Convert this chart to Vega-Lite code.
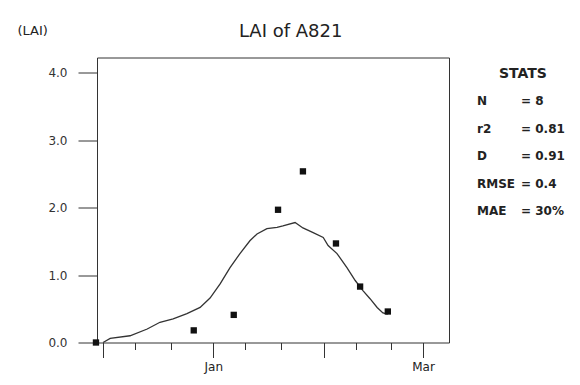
{
  "$schema": "https://vega.github.io/schema/vega-lite/v6.json",
  "padding": {"left": 16, "top": 22.5, "right": 0, "bottom": 0},
  "background": "white",
  "title": {"text": "LAI of A821", "font": "DejaVu Sans", "fontSize": 18, "fontWeight": "normal", "color": "#222", "anchor": "middle", "offset": -17},
  "config": {"view": {"stroke": "#333", "strokeWidth": 1}, "font": "DejaVu Sans"},
  "datasets": {
    "simulated": [
      {"date": "2000/12/01 00:00", "lai": 0.0},
      {"date": "2000/12/03 00:00", "lai": 0.06},
      {"date": "2000/12/08 14:00", "lai": 0.10},
      {"date": "2000/12/13 10:00", "lai": 0.20},
      {"date": "2000/12/17 00:00", "lai": 0.30},
      {"date": "2000/12/20 17:00", "lai": 0.35},
      {"date": "2000/12/24 14:00", "lai": 0.43},
      {"date": "2000/12/28 07:00", "lai": 0.52},
      {"date": "2000/12/31 02:00", "lai": 0.66},
      {"date": "2001/01/02 22:00", "lai": 0.87},
      {"date": "2001/01/05 17:00", "lai": 1.11},
      {"date": "2001/01/08 12:00", "lai": 1.32},
      {"date": "2001/01/11 07:00", "lai": 1.51},
      {"date": "2001/01/13 07:00", "lai": 1.61},
      {"date": "2001/01/16 02:00", "lai": 1.69},
      {"date": "2001/01/18 22:00", "lai": 1.71},
      {"date": "2001/01/20 14:00", "lai": 1.73},
      {"date": "2001/01/24 00:00", "lai": 1.78},
      {"date": "2001/01/26 05:00", "lai": 1.70},
      {"date": "2001/01/29 02:00", "lai": 1.63},
      {"date": "2001/01/31 22:00", "lai": 1.56},
      {"date": "2001/02/02 07:00", "lai": 1.44},
      {"date": "2001/02/04 19:00", "lai": 1.32},
      {"date": "2001/02/07 14:00", "lai": 1.11},
      {"date": "2001/02/09 22:00", "lai": 0.92},
      {"date": "2001/02/12 02:00", "lai": 0.77},
      {"date": "2001/02/14 02:00", "lai": 0.65},
      {"date": "2001/02/16 02:00", "lai": 0.52},
      {"date": "2001/02/17 17:00", "lai": 0.44},
      {"date": "2001/02/19 02:00", "lai": 0.42}
    ],
    "observed": [
      {"date": "2000/11/29 00:00", "lai": 0.0},
      {"date": "2000/12/26 12:00", "lai": 0.18},
      {"date": "2001/01/06 18:00", "lai": 0.41},
      {"date": "2001/01/19 05:00", "lai": 1.97},
      {"date": "2001/01/26 05:00", "lai": 2.54},
      {"date": "2001/02/04 12:00", "lai": 1.47},
      {"date": "2001/02/11 07:00", "lai": 0.83},
      {"date": "2001/02/19 02:00", "lai": 0.46}
    ],
    "stats": [
      {"line": "STATS", "part": "header", "text": "STATS"},
      {"line": "N", "part": "name", "text": "N"},
      {"line": "N", "part": "value", "text": "= 8"},
      {"line": "r2", "part": "name", "text": "r2"},
      {"line": "r2", "part": "value", "text": "= 0.81"},
      {"line": "D", "part": "name", "text": "D"},
      {"line": "D", "part": "value", "text": "= 0.91"},
      {"line": "RMSE", "part": "name", "text": "RMSE"},
      {"line": "RMSE", "part": "value", "text": "= 0.4"},
      {"line": "MAE", "part": "name", "text": "MAE"},
      {"line": "MAE", "part": "value", "text": "= 30%"}
    ]
  },
  "hconcat": [
    {
      "width": 352,
      "height": 285,
      "encoding": {
        "x": {
          "field": "date", "type": "temporal",
          "scale": {"domain": [{"year": 2000, "month": 11, "date": 29, "hours": 7}, {"year": 2001, "month": 3, "date": 8, "hours": 7}]},
          "axis": {
            "title": null,
            "grid": false,
            "domain": false,
            "values": [
              {"year": 2000, "month": 12, "date": 1}, {"year": 2000, "month": 12, "date": 10}, {"year": 2000, "month": 12, "date": 20},
              {"year": 2001, "month": 1, "date": 1}, {"year": 2001, "month": 1, "date": 10}, {"year": 2001, "month": 1, "date": 20},
              {"year": 2001, "month": 2, "date": 1}, {"year": 2001, "month": 2, "date": 10}, {"year": 2001, "month": 2, "date": 20},
              {"year": 2001, "month": 3, "date": 1}
            ],
            "labelExpr": "(month(datum.value) == 0 || month(datum.value) == 2) && date(datum.value) == 1 ? timeFormat(datum.value, '%b') : ''",
            "tickSize": {"condition": {"test": "date(datum.value) == 1", "value": 15}, "value": 7},
            "tickColor": "#333",
            "labelFont": "DejaVu Sans",
            "labelFontSize": 12,
            "labelColor": "#222",
            "labelPadding": 4,
            "labelOverlap": false,
            "labelFlush": false
          }
        },
        "y": {
          "field": "lai", "type": "quantitative",
          "scale": {"domain": [0, 4.23], "nice": false},
          "axis": {
            "values": [0, 1, 2, 3, 4],
            "format": ".1f",
            "grid": false,
            "domainColor": "#333",
            "tickColor": "#333",
            "tickSize": 19,
            "labelPadding": 11,
            "labelFont": "DejaVu Sans",
            "labelFontSize": 12,
            "labelColor": "#333",
            "title": "(LAI)",
            "titleAngle": 0,
            "titleAlign": "left",
            "titleBaseline": "middle",
            "titleX": -80,
            "titleY": -27,
            "titleFont": "DejaVu Sans",
            "titleFontSize": 13,
            "titleFontWeight": "normal",
            "titleColor": "#222"
          }
        }
      },
      "layer": [
        {
          "data": {"name": "simulated"},
          "mark": {"type": "line", "color": "#333", "strokeWidth": 1.3}
        },
        {
          "data": {"name": "observed"},
          "mark": {"type": "point", "shape": "square", "filled": true, "size": 40, "color": "#111", "opacity": 1}
        }
      ]
    },
    {
      "width": 44,
      "height": 170,
      "view": {"stroke": null},
      "data": {"name": "stats"},
      "mark": {"type": "text", "align": "left", "baseline": "middle", "font": "DejaVu Sans", "fontWeight": "bold", "color": "#222"},
      "encoding": {
        "x": {"field": "part", "type": "nominal", "scale": {"type": "point", "domain": ["name", "header", "value"], "padding": 0}, "axis": null},
        "y": {"field": "line", "type": "nominal", "scale": {"type": "point", "domain": ["STATS", "N", "r2", "D", "RMSE", "MAE"], "padding": 0.58}, "axis": null},
        "text": {"field": "text"},
        "size": {"condition": {"test": "datum.part == 'header'", "value": 14}, "value": 12}
      }
    }
  ],
  "spacing": 27
}
